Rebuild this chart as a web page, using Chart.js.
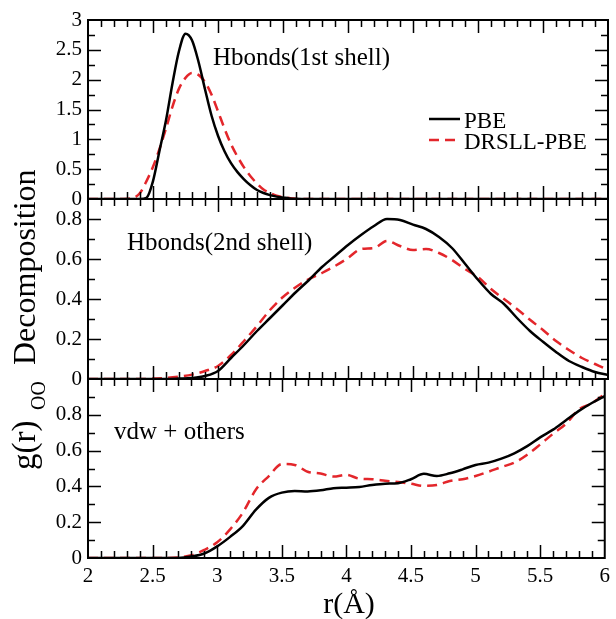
<!DOCTYPE html>
<html>
<head>
<meta charset="utf-8">
<script src="https://cdn.jsdelivr.net/npm/chart.js@4.4.0/dist/chart.umd.min.js"></script>
<style>
  body { margin: 0; background: #fff; }
  #wrap { position: relative; width: 616px; height: 619px; }
  #wrap canvas { position: absolute; left: 0; top: 0; }
</style>
</head>
<body>
<div id="wrap">
  <canvas id="c1" width="616" height="619"></canvas>
  <canvas id="c2" width="616" height="619"></canvas>
  <canvas id="c3" width="616" height="619"></canvas>
</div>
<script>
// r values (Angstrom) for the first panel, finer around the peak
var r1 = [2.0, 2.2, 2.3, 2.35, 2.4, 2.45, 2.5, 2.55, 2.6, 2.65, 2.7, 2.75, 2.8, 2.85, 2.9, 2.95,
          3.0, 3.05, 3.1, 3.15, 3.2, 3.25, 3.3, 3.35, 3.4, 3.45, 3.5, 3.55, 3.6, 3.8, 4.0, 4.5, 5.0, 5.5, 6.0];
var pbe1 = [0, 0, 0, 0, 0, 0.02, 0.30, 0.81, 1.32, 1.94, 2.48, 2.77, 2.66, 2.30, 1.84, 1.40,
            1.06, 0.80, 0.60, 0.45, 0.33, 0.23, 0.15, 0.10, 0.065, 0.04, 0.025, 0.01, 0.005, 0, 0, 0, 0, 0, 0];
var drsll1 = [0, 0, 0.005, 0.02, 0.10, 0.30, 0.54, 0.84, 1.18, 1.55, 1.85, 2.03, 2.11, 2.08, 1.96, 1.75,
              1.47, 1.18, 0.92, 0.71, 0.53, 0.38, 0.26, 0.16, 0.10, 0.055, 0.03, 0.015, 0.005, 0, 0, 0, 0, 0, 0];

// r values for the 2nd and 3rd panels
var r2 = [2.0, 2.1, 2.2, 2.3, 2.4, 2.5, 2.6, 2.7, 2.8, 2.9, 3.0, 3.1, 3.2, 3.3, 3.4, 3.5, 3.6, 3.7, 3.8, 3.9,
          4.0, 4.1, 4.2, 4.3, 4.4, 4.5, 4.6, 4.7, 4.8, 4.9, 5.0, 5.1, 5.2, 5.3, 5.4, 5.5, 5.6, 5.7, 5.8, 5.9, 6.0];
// Hbonds (2nd shell)
var pbe2 = [0, 0, 0, 0, 0, 0, 0, 0.002, 0.005, 0.015, 0.04, 0.105, 0.17, 0.24, 0.305, 0.37, 0.435, 0.495, 0.56, 0.615,
            0.67, 0.72, 0.765, 0.80, 0.795, 0.772, 0.75, 0.71, 0.655, 0.576, 0.496, 0.425, 0.375, 0.305, 0.24, 0.186, 0.135, 0.09, 0.06, 0.035, 0.02];
var drsll2 = [0, 0, 0, 0, 0, 0.002, 0.005, 0.012, 0.022, 0.04, 0.065, 0.12, 0.19, 0.265, 0.345, 0.41, 0.46, 0.50, 0.53, 0.565,
              0.605, 0.65, 0.655, 0.69, 0.665, 0.645, 0.65, 0.63, 0.595, 0.55, 0.51, 0.45, 0.40, 0.35, 0.296, 0.245, 0.19, 0.145, 0.105, 0.075, 0.045];
// vdw + others
var pbe3 = [0, 0, 0, 0, 0, 0, 0, 0, 0.008, 0.025, 0.065, 0.118, 0.18, 0.27, 0.336, 0.365, 0.374, 0.372, 0.378, 0.39,
            0.393, 0.397, 0.408, 0.415, 0.418, 0.44, 0.47, 0.458, 0.473, 0.495, 0.52, 0.533, 0.555, 0.585, 0.625, 0.674, 0.717, 0.77, 0.822, 0.866, 0.905];
var drsll3 = [0, 0, 0, 0, 0, 0, 0, 0.003, 0.015, 0.045, 0.088, 0.16, 0.255, 0.383, 0.458, 0.525, 0.52, 0.482, 0.472, 0.455,
              0.465, 0.443, 0.44, 0.432, 0.424, 0.415, 0.403, 0.408, 0.43, 0.44, 0.458, 0.482, 0.508, 0.533, 0.577, 0.634, 0.694, 0.75, 0.83, 0.865, 0.915];

var seriesNames = ['PBE', 'DRSLL-PBE'];
var serif = "'Liberation Serif', 'Times New Roman', serif";
var red = '#e3262b';

function pts(xs, ys) {
    return xs.map(function (x, i) { return { x: x, y: ys[i] }; });
}

function fmt(v) {
    return String(Math.round(v * 100) / 100);
}

// frame, inward ticks on all four sides, and text inside the panel
var frame = {
    id: 'frame',
    afterDraw: function (chart, args, o) {
        var ctx = chart.ctx, a = chart.chartArea;
        var xs = chart.scales.x, ys = chart.scales.y;
        ctx.save();
        ctx.strokeStyle = '#000';
        ctx.lineWidth = 1.5;
        ctx.beginPath();
        for (var i = 1; i < 40; i++) {
            var px = Math.round(xs.getPixelForValue(2 + i * 0.1)) + 0.5;
            var len = i % 5 === 0 ? 13 : 7;
            ctx.moveTo(px, a.bottom); ctx.lineTo(px, a.bottom - len);
            ctx.moveTo(px, a.top); ctx.lineTo(px, a.top + len);
        }
        var n = Math.round(o.yMax / o.minor);
        for (var j = 1; j < n; j++) {
            var py = Math.round(ys.getPixelForValue(j * o.minor)) + 0.5;
            var l = j % 2 === 0 ? 13 : 7;
            ctx.moveTo(a.left, py); ctx.lineTo(a.left + l, py);
            ctx.moveTo(a.right, py); ctx.lineTo(a.right - l, py);
        }
        ctx.stroke();
        ctx.lineWidth = 2;
        ctx.strokeRect(a.left, a.top, a.right - a.left, a.bottom - a.top);

        ctx.fillStyle = '#000';
        ctx.font = '25px ' + serif;
        ctx.textBaseline = 'alphabetic';
        ctx.fillText(o.label, o.lx, o.ly);

        if (o.legend) {
            ctx.font = '23px ' + serif;
            chart.data.datasets.forEach(function (ds, k) {
                var y = 119 + k * 21;
                ctx.strokeStyle = ds.borderColor;
                ctx.lineWidth = 2.5;
                ctx.setLineDash(ds.borderDash || []);
                ctx.beginPath();
                ctx.moveTo(429, y); ctx.lineTo(460, y);
                ctx.stroke();
                ctx.setLineDash([]);
                ctx.fillText(ds.label, 464, y + 9);
            });
        }

        if (o.titles) {
            ctx.font = '30px ' + serif;
            ctx.textAlign = 'center';
            ctx.fillText('r(Å)', 349, 613);
            ctx.textAlign = 'left';
            ctx.translate(35, 470);
            ctx.rotate(-Math.PI / 2);
            ctx.font = '33px ' + serif;
            ctx.fillText('g(r)', 0, 0);
            ctx.font = '20px ' + serif;
            ctx.fillText('OO', 60, 10);
            ctx.font = '32px ' + serif;
            ctx.fillText('Decomposition', 105, 0);
        }
        ctx.restore();
    }
};

function makePanel(id, a, b, xs, yMax, step, minor, padTop, padBottom, deco, showX) {
    return new Chart(document.getElementById(id), {
        type: 'line',
        data: {
            datasets: [{
                label: seriesNames[0],
                data: pts(xs, a),
                borderColor: '#000',
                borderWidth: 2.5,
                pointRadius: 0,
                cubicInterpolationMode: 'monotone'
            }, {
                label: seriesNames[1],
                data: pts(xs, b),
                borderColor: red,
                borderWidth: 2.5,
                borderDash: [10, 6],
                pointRadius: 0,
                cubicInterpolationMode: 'monotone'
            }]
        },
        options: {
            responsive: false,
            animation: false,
            layout: { padding: { left: 0, right: 8, top: padTop, bottom: padBottom } },
            plugins: {
                legend: { display: false },
                tooltip: { enabled: false },
                frame: deco
            },
            scales: {
                x: {
                    type: 'linear',
                    min: 2,
                    max: 6,
                    display: showX,
                    grid: { display: false, drawTicks: false },
                    border: { display: false },
                    ticks: {
                        stepSize: 0.5,
                        padding: 6,
                        maxRotation: 0,
                        autoSkip: false,
                        color: '#000',
                        font: { family: serif, size: 21 },
                        callback: function (v) { return fmt(v); }
                    },
                    afterFit: function (s) { if (showX) s.height = 61; }
                },
                y: {
                    min: 0,
                    max: yMax,
                    grid: { display: false, drawTicks: false },
                    border: { display: false },
                    ticks: {
                        stepSize: step,
                        includeBounds: false,
                        padding: 6,
                        autoSkip: false,
                        color: '#000',
                        font: { family: serif, size: 21 },
                        callback: function (v) {
                            if (Math.abs(v / step - Math.round(v / step)) > 1e-6) return '';
                            if (yMax < 2 && v > 0.85) return '';
                            return fmt(v);
                        }
                    },
                    afterFit: function (s) { s.width = 88; }
                }
            }
        },
        plugins: [frame]
    });
}

makePanel('c1', pbe1, drsll1, r1, 3, 0.5, 0.25, 20, 420,
    { yMax: 3, minor: 0.25, label: 'Hbonds(1st shell)', lx: 213, ly: 65, legend: true }, false);
makePanel('c2', pbe2, drsll2, r2, 0.9, 0.2, 0.1, 199, 240,
    { yMax: 0.9, minor: 0.1, label: 'Hbonds(2nd shell)', lx: 127, ly: 250 }, false);
makePanel('c3', pbe3, drsll3, r2, 1.0, 0.2, 0.1, 379, 0,
    { yMax: 1.0, minor: 0.1, label: 'vdw + others', lx: 114, ly: 439, titles: true }, true);
</script>
</body>
</html>
